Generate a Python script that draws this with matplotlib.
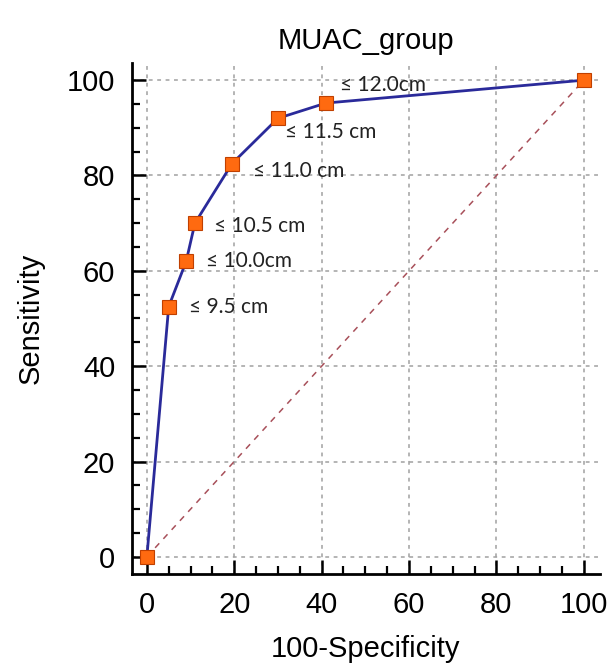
import matplotlib
matplotlib.use("Agg")
import matplotlib.pyplot as plt
from matplotlib.ticker import MultipleLocator

fpr = [0, 5, 9, 11, 19.5, 30, 41, 100]
tpr = [0, 52.5, 62, 70, 82.5, 92, 95.2, 100]
labels = ["", "≤ 9.5 cm", "≤ 10.0cm", "≤ 10.5 cm", "≤ 11.0 cm", "≤ 11.5 cm", "≤ 12.0cm", ""]
offsets = [(0, 0), (20, 0), (20, 0), (19, -3), (21, -7), (7, -14), (14, 18), (0, 0)]
ticks = [0, 20, 40, 60, 80, 100]

plt.rcParams['font.family'] = ['Liberation Sans', 'DejaVu Sans']
fig = plt.figure(figsize=(6.13, 6.71), dpi=100)
ax = fig.add_axes([132/613, (671-574)/671, (600-132)/613, (574-63)/671])

ax.plot([0, 100], [0, 100], ls=(0, (4, 4)), color='#A8505A', lw=1.1, zorder=2)
ax.plot(fpr, tpr, color='#2A2A9A', lw=2, zorder=3)
ax.plot(fpr, tpr, ls='none', marker='s', ms=10, mfc='#FF6A10', mec='#C04000', mew=0.8, zorder=4)

for x, y, t, (dx, dy) in zip(fpr, tpr, labels, offsets):
    if t:
        ax.annotate(t, (x, y), xytext=(dx, dy), textcoords='offset pixels',
                    ha='left', va='center', fontsize=15, family=['Lato', 'DejaVu Sans'],
                    color='#222222', zorder=5)

ax.set_xlim(-3.4, 103.7)
ax.set_ylim(-3.6, 103.6)
ax.set_xticks(ticks)
ax.set_yticks(ticks)
ax.xaxis.set_minor_locator(MultipleLocator(5))
ax.yaxis.set_minor_locator(MultipleLocator(5))
ax.tick_params(which='major', direction='in', length=10, width=1.8, labelsize=21, pad=12)
ax.tick_params(which='minor', direction='in', length=6, width=1.6)
for s in ['top', 'right']:
    ax.spines[s].set_visible(False)
for s in ['left', 'bottom']:
    ax.spines[s].set_linewidth(2)
ax.grid(True, which='major', ls=(0, (2.5, 3)), color='#A0A0A0', lw=1.1)

ax.set_title('MUAC_group', fontsize=21, pad=10)
ax.set_xlabel('100-Specificity', fontsize=21, labelpad=12)
ax.set_ylabel('Sensitivity', fontsize=21, labelpad=16)

fig.savefig('out.png', dpi=100)
